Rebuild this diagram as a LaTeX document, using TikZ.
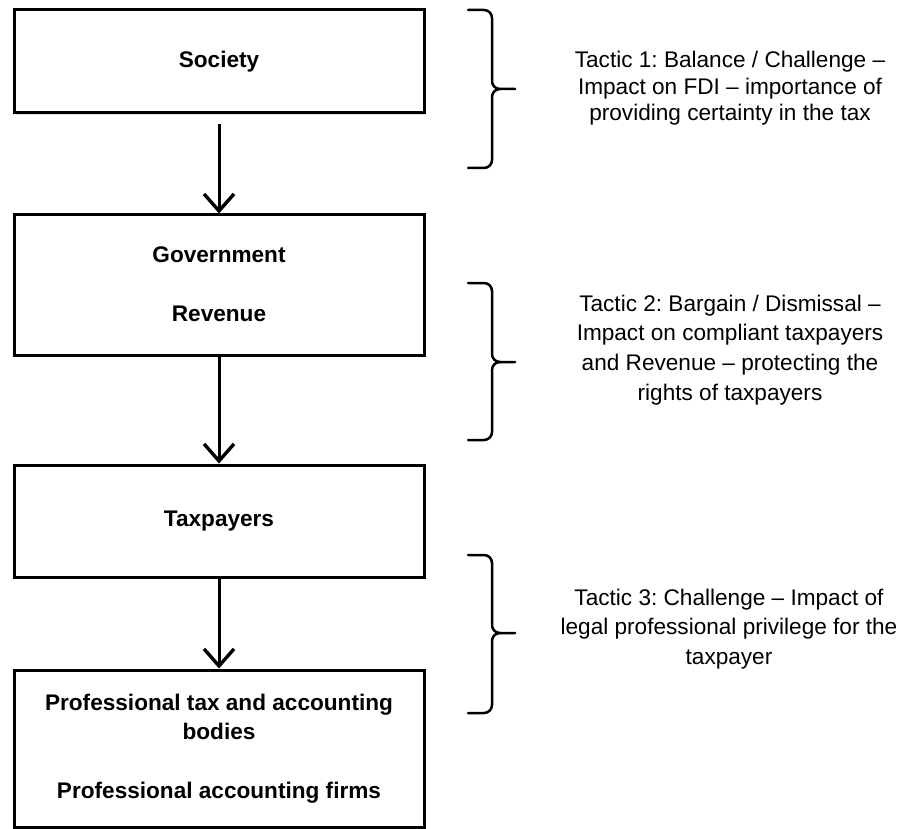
\documentclass[tikz,border=0pt]{standalone}
\usepackage{fontspec}
\setmainfont{Liberation Sans}
\frenchspacing
\usetikzlibrary{arrows.meta,shadows}
\newcommand\tacbrace[3]{%
  \draw[bracestyle] (468,-#1) -- (484,-#1) to[out=0,in=90] (492,-#1-8) -- (492,-#3+8)
     to[out=-90,in=180] (500,-#3) -- (515,-#3);
  \draw[bracestyle] (468,-#2) -- (484,-#2) to[out=0,in=-90] (492,-#2+8) -- (492,-#3-8)
     to[out=90,in=180] (500,-#3);}
\begin{document}
\begin{tikzpicture}[x=1pt,y=1pt,
  box/.style={draw=black,line width=3pt,fill=white,minimum width=410pt,inner sep=0pt,
    align=center,font=\fontsize{22.6}{29.5}\selectfont\bfseries,
    drop shadow={shadow xshift=1.5pt,shadow yshift=-2pt,opacity=0.25}},
  arr/.style={line width=3pt,-{Straight Barb[length=17pt,width=30pt,line width=3.4pt]}},
  bracestyle/.style={line width=2.5pt,line cap=round},
  tactic/.style={align=center,font=\fontsize{22.6}{29.7}\selectfont,inner sep=0pt}]
\useasboundingbox (0,0) rectangle (902,-829);
\fill[white] (0,0) rectangle (902,-829);
\node[box,minimum height=103pt] (soc) at (219,-61.5) {Society};
\node[box,minimum height=140pt] (gov) at (219,-285) {\raisebox{2pt}{Government}\\[29.5pt]\raisebox{2pt}{Revenue}};
\node[box,minimum height=112pt] (tax) at (219,-521) {Taxpayers};
\node[box,minimum height=157pt] (pro) at (219,-748.5) {Professional tax and accounting\\bodies\\[29.5pt]Professional accounting firms};
\draw[arr,shorten <=10pt] (soc.south) -- (gov.north);
\draw[arr] (gov.south) -- (tax.north);
\draw[arr] (tax.south) -- (pro.north);
\tacbrace{10}{168}{89}
\tacbrace{283}{440}{362}
\tacbrace{555}{713}{633}
\node[tactic,font=\fontsize{22.6}{26.5}\selectfont] (t1) at (730,-88.5) {Tactic 1: Balance / Challenge –\\Impact on FDI – importance of\\providing certainty in the tax};
\node[tactic] (t2) at (730,-350) {Tactic 2: Bargain / Dismissal –\\Impact on compliant taxpayers\\and Revenue – protecting the\\rights of taxpayers};
\node[tactic] (t3) at (729,-629) {Tactic 3: Challenge – Impact of\\legal professional privilege for the\\taxpayer};
\end{tikzpicture}
\end{document}
